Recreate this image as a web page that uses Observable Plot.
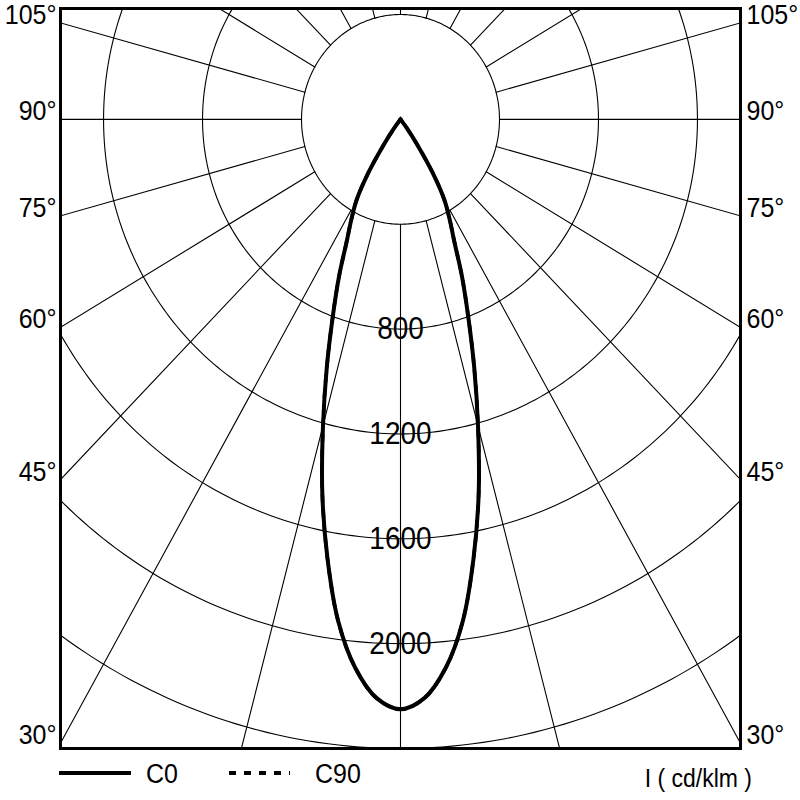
<!DOCTYPE html>
<html><head><meta charset="utf-8">
<script src="https://cdn.jsdelivr.net/npm/d3@7"></script>
<script src="https://cdn.jsdelivr.net/npm/@observablehq/plot@0.6"></script>
<style>
body{margin:0;background:#fff;font-family:Arial,"Liberation Sans",sans-serif;}
#wrap{position:relative;width:800px;height:800px;}
#wrap svg{display:block;}
#legend{position:absolute;left:0;top:752px;}
</style></head><body><div id="wrap"></div>
<script>
// Gamma angles (deg from nadir) and luminous intensity (cd/klm)
const angles = [0, 2.5, 5, 7.5, 10, 12.5, 15, 17.5, 20, 22.5, 25, 27.5, 30, 32.5, 35, 37.5, 40];
const c0  = [2250, 2210, 2100, 1930, 1700, 1460, 1210, 990, 800, 650, 515, 430, 355, 245, 120, 40, 0];
const c90 = [2250, 2210, 2100, 1930, 1700, 1460, 1210, 990, 800, 650, 515, 430, 355, 245, 120, 40, 0];
// Grid
const ringValues = [400, 800, 1200, 1600, 2000, 2400];
const ringLabels = [800, 1200, 1600, 2000];
const spokeAngles = [0, 15, 30, 45, 60, 75, 90, 105, 120, 135, 150, 165, 180, 195, 210, 225, 240, 255, 270, 285, 300, 315, 330, 345];
const angleLabels = [30, 45, 60, 75, 90, 105];
const legendNames = ["C0", "C90"];
const unitLabel = "I ( cd/klm )";

const XMAX = 1374, YMIN = -2400, YMAX = 423;
const rad = d => d * Math.PI / 180;

// rings
const ringPts = [];
for (const r of ringValues) for (let a = 0; a <= 360; a += 1) ringPts.push({r, x: r * Math.sin(rad(a)), y: -r * Math.cos(rad(a))});
// spokes
const spokePts = [];
for (const a of spokeAngles) for (const r of [400, 4000]) spokePts.push({a, x: r * Math.sin(rad(a)), y: -r * Math.cos(rad(a))});
// curves: left half (C180) then right half (C0)
function curvePts(vals, name) {
  const pts = [];
  for (let i = angles.length - 1; i >= 0; i--) pts.push({name, x: -vals[i] * Math.sin(rad(angles[i])), y: -vals[i] * Math.cos(rad(angles[i]))});
  for (let i = 1; i < angles.length; i++) pts.push({name, x: vals[i] * Math.sin(rad(angles[i])), y: -vals[i] * Math.cos(rad(angles[i]))});
  return pts;
}
const c0Pts = curvePts(c0, "C0");
const c90Pts = curvePts(c90, "C90");
// angle label positions on frame edges
const labL = angleLabels.map(a => ({t: a + "°", x: -XMAX, y: -XMAX / Math.tan(rad(a))}));
const labR = angleLabels.map(a => ({t: a + "°", x: XMAX, y: -XMAX / Math.tan(rad(a))}));
const ringLab = ringLabels.map(r => ({t: String(r), x: 0, y: -r}));

const font = "Arial, 'Liberation Sans', sans-serif";
const chart = Plot.plot({
  width: 800, height: 752,
  marginLeft: 60, marginRight: 60, marginTop: 8, marginBottom: 4,
  x: {domain: [-XMAX, XMAX], axis: null},
  y: {domain: [YMIN, YMAX], axis: null},
  style: {background: "white", fontFamily: font, overflow: "visible"},
  marks: [
    Plot.line(ringPts, {x: "x", y: "y", z: "r", stroke: "black", strokeWidth: 1.1, clip: true}),
    Plot.line(spokePts, {x: "x", y: "y", z: "a", stroke: "black", strokeWidth: 1.1, clip: true}),
    Plot.text(ringLab, {x: "x", y: "y", text: "t", fontSize: 28, fill: "black", textAnchor: "middle", lineAnchor: "middle"}),
    Plot.line(c90Pts, {x: "x", y: "y", stroke: "black", strokeWidth: 3.5, strokeDasharray: "7,8", curve: "catmull-rom", clip: true}),
    Plot.line(c0Pts, {x: "x", y: "y", stroke: "black", strokeWidth: 4, curve: "catmull-rom", strokeLinejoin: "miter", strokeLinecap: "square", clip: true}),
    Plot.frame({stroke: "black", strokeWidth: 3}),
    Plot.text(labL, {x: "x", y: "y", text: "t", fontSize: 25, fill: "black", textAnchor: "end", lineAnchor: "middle", dx: -4, dy: -8}),
    Plot.text(labR, {x: "x", y: "y", text: "t", fontSize: 25, fill: "black", textAnchor: "start", lineAnchor: "middle", dx: 6, dy: -8})
  ]
});
// slight vertical stretch of the lettering, as in the reference
d3.select(chart).selectAll("text").each(function() {
  const t = this.getAttribute("transform");
  if (t) this.setAttribute("transform", t + " scale(1,1.12)");
});
document.getElementById("wrap").appendChild(chart);

// legend below the chart
const lg = d3.select("#wrap").append("svg").attr("id", "legend").attr("width", 800).attr("height", 48)
  .style("font-family", font);
lg.append("line").attr("x1", 59).attr("x2", 131).attr("y1", 21).attr("y2", 21).attr("stroke", "black").attr("stroke-width", 4);
lg.append("text").attr("transform", "translate(146,24) scale(1,1.12)").attr("dominant-baseline", "middle").attr("font-size", 25).text(legendNames[0]);
lg.append("line").attr("x1", 229).attr("x2", 290).attr("y1", 21).attr("y2", 21).attr("stroke", "black").attr("stroke-width", 4).attr("stroke-dasharray", "7,8");
lg.append("text").attr("transform", "translate(315,24) scale(1,1.12)").attr("dominant-baseline", "middle").attr("font-size", 25).text(legendNames[1]);
lg.append("text").attr("transform", "translate(752,28) scale(1,1.12)").attr("dominant-baseline", "middle").attr("text-anchor", "end").attr("font-size", 23).text(unitLabel);
</script></body></html>
